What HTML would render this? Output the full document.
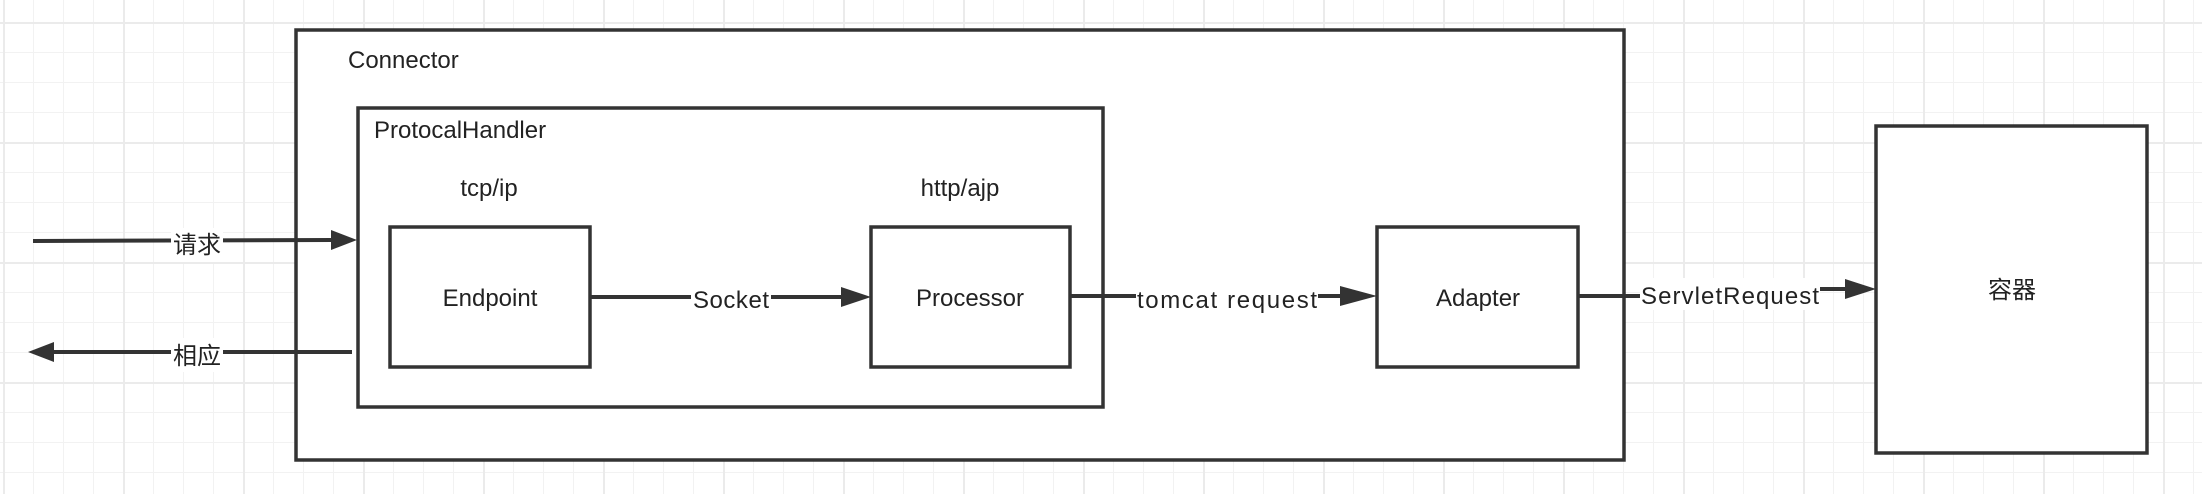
<!DOCTYPE html>
<html><head><meta charset="utf-8"><style>
html,body{margin:0;padding:0;}
body{width:2202px;height:494px;overflow:hidden;background:#fff;
background-image:
linear-gradient(#ebebeb 2px,transparent 2px),
linear-gradient(90deg,#ebebeb 2px,transparent 2px),
linear-gradient(#f2f2f2 1px,transparent 1px),
linear-gradient(90deg,#f2f2f2 1px,transparent 1px);
background-size:120px 120px,120px 120px,30px 30px,30px 30px;
background-position:0 22px,3px 0,0 22px,3px 0;
font-family:"Liberation Sans","Noto Sans CJK SC",sans-serif;color:#222;}
</style></head><body>
<svg width="2202" height="494" xmlns="http://www.w3.org/2000/svg" style="position:absolute;left:0;top:0" font-family="Liberation Sans, Noto Sans CJK SC, sans-serif" font-size="24" fill="#222">
<g stroke="#333" stroke-width="3.5" fill="#fff">
<rect x="296" y="30" width="1328" height="430"/>
<rect x="358" y="108" width="745" height="299"/>
<rect x="390" y="227" width="200" height="140"/>
<rect x="871" y="227" width="199" height="140"/>
<rect x="1377" y="227" width="201" height="140"/>
<rect x="1876" y="126" width="271" height="327"/>
</g>
<g stroke="#333" stroke-width="4" fill="none">
<line x1="33" y1="241" x2="332" y2="240"/>
<line x1="352" y1="352" x2="52" y2="352"/>
<line x1="590" y1="297" x2="843" y2="297"/>
<line x1="1070" y1="296" x2="1342" y2="296"/>
<line x1="1578" y1="296" x2="1640" y2="296"/>
<line x1="1820" y1="289" x2="1848" y2="289"/>
</g>
<g fill="#333">
<polygon points="331,230 357,240 331,250"/>
<polygon points="54,342 28,352 54,362"/>
<polygon points="841,287 871,297 841,307"/>
<polygon points="1340,286 1377,296 1340,306"/>
<polygon points="1845,279 1876,289 1845,299"/>
</g>
<g fill="#fff">
<rect x="171" y="228" width="52" height="34"/>
<rect x="171" y="338" width="52" height="34"/>
<rect x="691" y="284" width="80" height="32"/>
<rect x="1136" y="284" width="182" height="32"/>
<rect x="1640" y="278" width="180" height="32"/>
</g>
<text x="348" y="68">Connector</text>
<text x="374" y="138">ProtocalHandler</text>
<text x="489" y="196" text-anchor="middle">tcp/ip</text>
<text x="960" y="196" text-anchor="middle">http/ajp</text>
<text x="490" y="306" text-anchor="middle">Endpoint</text>
<text x="970" y="306" text-anchor="middle">Processor</text>
<text x="1478" y="306" text-anchor="middle">Adapter</text>
<text x="2012" y="298" text-anchor="middle">容器</text>
<text x="197" y="253" text-anchor="middle">请求</text>
<text x="197" y="364" text-anchor="middle">相应</text>
<text x="731" y="308" text-anchor="middle" textLength="76">Socket</text>
<text x="1227" y="308" text-anchor="middle" textLength="180">tomcat request</text>
<text x="1730" y="304" text-anchor="middle" textLength="178">ServletRequest</text>
</svg>
</body></html>
